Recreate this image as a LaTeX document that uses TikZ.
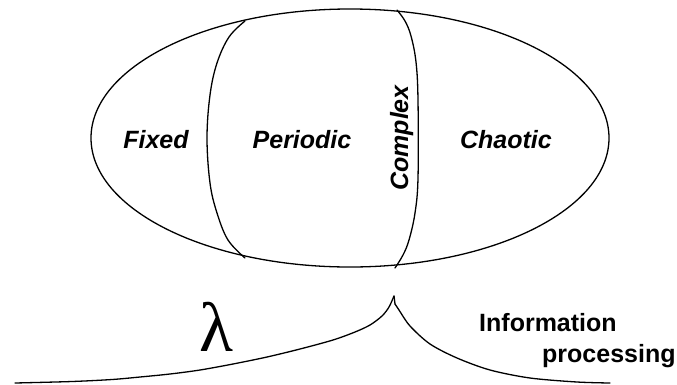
\documentclass[tikz,border=0pt]{standalone}
\usepackage{fontspec}
\setmainfont{Liberation Sans}
\newfontfamily\lamfont{Liberation Serif}
\begin{document}
\begin{tikzpicture}[x=1pt,y=-1pt,
  line/.style={line width=1.3pt,line join=round,line cap=round},
  region/.style={font=\fontsize{25}{29}\selectfont\bfseries\itshape,anchor=base,inner sep=0pt},
  info/.style={font=\fontsize{25}{29}\selectfont\bfseries,anchor=base west,inner sep=0pt}]
\useasboundingbox (0,0) rectangle (677,384);
% ellipse
\draw[line] (350,138) ellipse [x radius=259, y radius=129];
% inner boundaries
\draw[line] plot[smooth,tension=0.6] coordinates {(245,21) (229,37) (217,63) (210,95) (207,138) (210,183) (217,213) (228,240) (245,258)};
\draw[line] plot[smooth,tension=0.6] coordinates {(397,10) (405,21) (411,36) (416,62) (418,100) (418,178) (415,213) (409,240) (403,255) (395,268)};
% labels
\node[region] (fixed) at (156,148) {Fixed};
\node[region] (periodic) at (302,148) {Periodic};
\node[region] (chaotic) at (506,148) {Chaotic};
\node[region,rotate=90] (complex) at (408,138) {Complex};
% bottom curve
\draw[line] plot[smooth,tension=0.5] coordinates {(15,383) (72,381.5) (112,379.5) (140,377) (170,374) (200,370) (233,364) (267,357) (300,349) (333,340) (355,332) (370,325) (382,316) (389,307) (394,296)};
\draw[line] (394,296) -- (395,304);
\draw[line] plot[smooth,tension=0.5] coordinates {(395,304) (399,310) (410,326) (430,344) (457,358) (490,370) (530,378) (577,382) (610,383)};
\node[font=\lamfont\fontsize{70}{72}\selectfont,anchor=base,inner sep=0pt] (lambda) at (216,351) {λ};
\node[info] (info1) at (479,331) {Information};
\node[info] (info2) at (542,362) {processing};
\end{tikzpicture}
\end{document}
